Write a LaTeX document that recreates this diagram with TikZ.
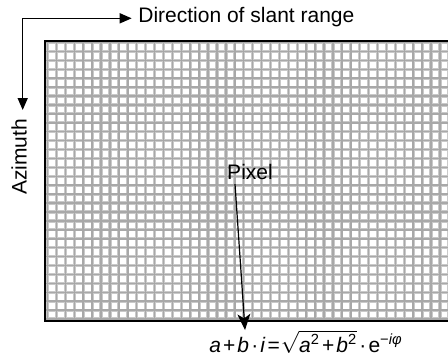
\documentclass[tikz,border=0pt]{standalone}
\usepackage{fontspec}
\setmainfont{Liberation Sans}
\usetikzlibrary{arrows.meta}

\tikzset{
  lbl/.style={inner sep=0pt, font=\fontsize{10.5}{12}\selectfont},
  gridhalo/.style={line width=1.6pt, color=gray!42},
  gridcore/.style={line width=0.75pt, color=gray!68},
  dirarrow/.style={line width=0.75pt, -{Triangle[length=6pt,width=5pt]}},
  pixarrow/.style={line width=0.6pt, -{Stealth[length=8pt,width=6.5pt,inset=2.2pt]}}
}

\begin{document}
\begin{tikzpicture}[line cap=butt, line join=miter, x=0.5pt, y=-0.5pt]
  \useasboundingbox (0,0) rectangle (448,361);
  %% pixel grid
  \begin{scope}
    \clip (44.7,40.5) rectangle (448,321);
    \fill[white] (44.7,40.5) rectangle (448,321);
    \foreach \k in {0,...,45} {
      \draw[gridhalo] ({47.5+8.92*\k},40.5) -- ({47.5+8.92*\k},321);
    }
    \foreach \k in {0,...,31} {
      \draw[gridhalo] (44.7,{42.5+8.92*\k}) -- (448,{42.5+8.92*\k});
    }
    \foreach \k in {0,...,45} {
      \draw[gridcore] ({47.5+8.92*\k},40.5) -- ({47.5+8.92*\k},321);
    }
    \foreach \k in {0,...,31} {
      \draw[gridcore] (44.7,{42.5+8.92*\k}) -- (448,{42.5+8.92*\k});
    }
  \end{scope}
  \draw[line width=1pt] (448,40.5) -- (44.7,40.5) -- (44.7,321) -- (448,321);

  %% axes
  \coordinate (corner) at (22.7,18.3);
  \coordinate (rangeend) at (131.7,18.3);
  \coordinate (aziend) at (22.7,110);
  \draw[dirarrow] (corner) -- (rangeend);
  \draw[dirarrow] (corner) -- (aziend);
  \node[lbl, anchor=base west] (range) at (138,22.7) {Direction of slant range};
  \node[lbl, rotate=90] (azimuth) at (19.2,157) {Azimuth};

  %% pixel label and formula
  \node[lbl] (pixel) at (250,172) {Pixel};
  \node[lbl, anchor=base] (formula) at (306,352)
    {\textit{a}\kern0.1em+\kern0.1em\textit{b}\kern0.1em·\kern0.1em\textit{i}\kern0.1em=\kern0.05em$\sqrt{\mbox{\textit{a}\textsuperscript{2}\kern0.1em+\kern0.1em\textit{b}\textsuperscript{2}}}$\kern0.1em·\kern0.1em e\textsuperscript{−\textit{iφ}}};
  \coordinate (pixtip) at (245,330);
  \draw[pixarrow] (pixel.south) ++(-15,4) -- (pixtip);
\end{tikzpicture}
\end{document}
